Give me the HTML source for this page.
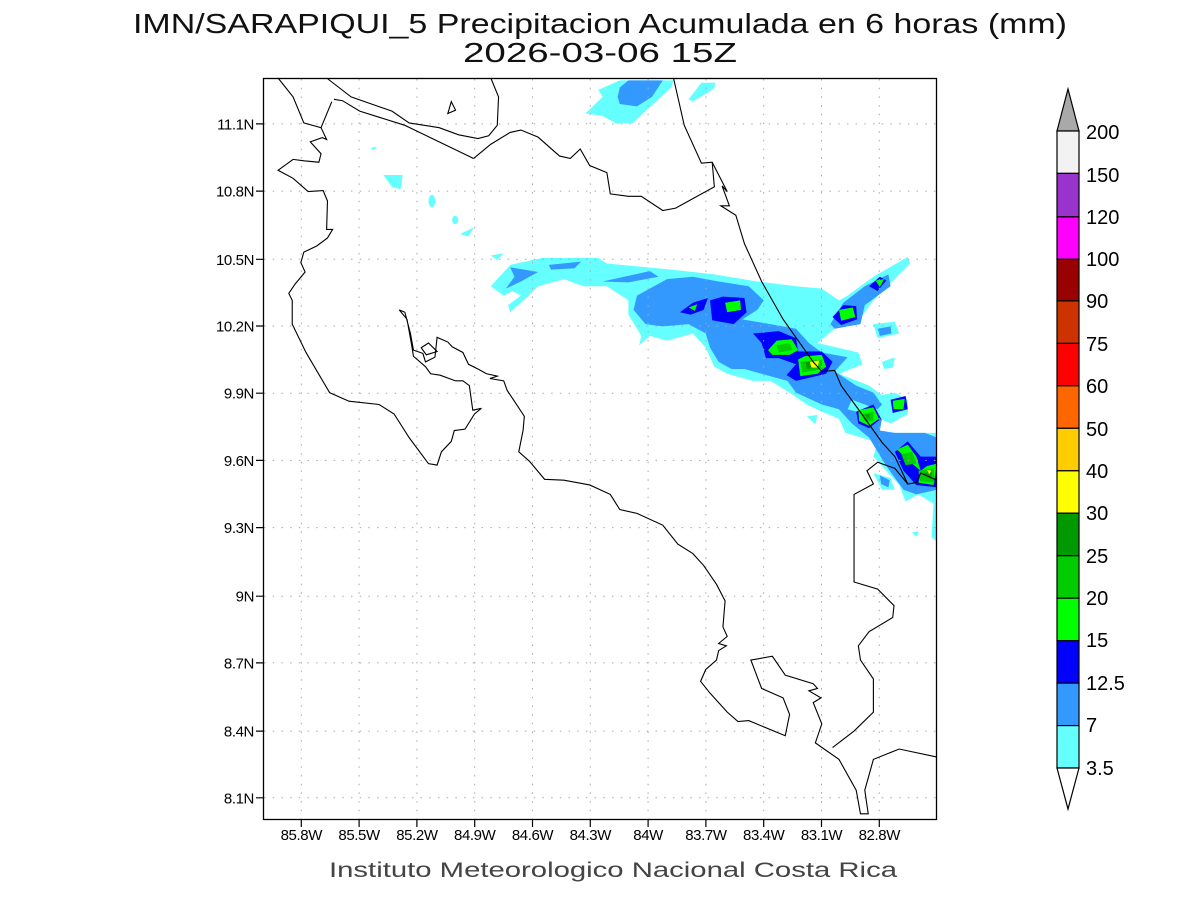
<!DOCTYPE html>
<html><head><meta charset="utf-8"><style>
html,body{margin:0;padding:0;background:#fff;}
svg{display:block;}
text{font-family:"Liberation Sans","DejaVu Sans",sans-serif;}
</style></head><body>
<svg width="1200" height="900" viewBox="0 0 1200 900" xmlns="http://www.w3.org/2000/svg">
<rect width="1200" height="900" fill="#fff"/>
<text x="133" y="33" font-size="28" textLength="934" lengthAdjust="spacingAndGlyphs" fill="#111">IMN/SARAPIQUI_5 Precipitacion Acumulada en 6 horas (mm)</text>
<text x="463" y="62" font-size="28" textLength="274" lengthAdjust="spacingAndGlyphs" fill="#111">2026-03-06 15Z</text>

<g transform="translate(263,78) scale(0.42985,0.47321)">
 <g fill="#66ffff" stroke="none">
  <path d="M530,440 L575,395 L650,380 L780,380 L800,392 L950,405 L1050,415 L1150,430 L1240,440 L1300,445 L1340,470 L1360,460 L1420,420 L1500,378 L1505,392 L1420,470 L1380,520 L1330,530 L1290,560 L1385,580 L1395,605 L1340,625 L1410,650 L1440,670 L1470,665 L1500,680 L1500,710 L1460,730 L1435,720 L1410,745 L1470,750 L1568,750 L1568,980 L1555,970 L1560,900 L1525,880 L1495,895 L1480,860 L1460,840 L1420,800 L1430,770 L1355,750 L1340,720 L1300,705 L1265,690 L1225,665 L1180,640 L1140,640 L1080,625 L1050,610 L1030,570 L1000,540 L940,555 L900,545 L875,565 L880,545 L850,500 L850,470 L800,440 L745,440 L700,425 L640,440 L600,475 L575,495 L570,480 L600,460 L580,450 L560,460 Z"/>
  <path d="M750,75 L790,40 L780,25 L830,5 L955,5 L950,20 L890,70 L860,95 L820,95 L790,80 Z"/>
  <path d="M990,45 L1020,10 L1052,10 L1050,22 L1000,50 Z"/>
  <path d="M280,205 L325,205 L320,235 L300,230 Z"/>
  <ellipse cx="393" cy="260" rx="8" ry="13"/>
  <ellipse cx="447" cy="300" rx="7" ry="9"/>
  <path d="M458,330 L490,316 L478,335 Z"/>
  <path d="M250,148 L265,145 L258,153 Z"/>
  <path d="M530,375 L560,370 L545,385 Z"/>
  <path d="M1420,520 L1470,515 L1480,540 L1430,550 Z"/>
  <path d="M1440,600 L1470,590 L1465,612 L1445,615 Z"/>
  <path d="M1265,715 L1290,712 L1285,732 Z"/>
  <path d="M1420,835 L1460,845 L1470,870 L1440,870 Z"/>
  <path d="M1510,960 L1525,958 L1520,970 Z"/>
 </g>
 <g fill="#3399ff">
  <path d="M575,400 L640,410 L600,430 L565,445 L585,420 Z"/>
  <path d="M665,395 L740,388 L725,402 L670,405 Z"/>
  <path d="M790,430 L900,408 L920,420 L850,432 Z"/>
  <path d="M870,460 L940,425 L1000,420 L1060,430 L1130,440 L1165,470 L1150,490 L1115,510 L1180,520 L1240,530 L1270,560 L1300,580 L1360,590 L1330,620 L1380,650 L1420,665 L1440,690 L1430,700 L1400,690 L1370,680 L1360,700 L1440,720 L1435,745 L1470,750 L1540,750 L1568,760 L1568,870 L1520,880 L1490,870 L1450,820 L1430,790 L1410,760 L1370,730 L1340,700 L1300,690 L1240,665 L1220,640 L1160,625 L1120,615 L1090,615 L1060,600 L1040,570 L1030,540 L990,520 L930,525 L890,520 L862,490 Z"/>
  <path d="M1075,570 L1110,560 L1130,575 L1085,585 Z"/>
  <path d="M1320,520 L1350,475 L1400,440 L1455,415 L1460,440 L1400,480 L1390,520 L1330,530 Z"/>
  <path d="M830,20 L850,5 L930,5 L905,40 L870,60 L830,55 L825,40 Z"/>
  <path d="M1430,530 L1460,525 L1462,540 L1435,545 Z"/>
  <path d="M1435,840 L1458,850 L1455,865 L1438,858 Z"/>
 </g>
 <g fill="#0000ff">
  <path d="M970,495 L1000,475 L1035,465 L1025,490 L995,500 Z"/>
  <path d="M1040,470 L1070,462 L1120,465 L1125,495 L1095,520 L1045,512 Z"/>
  <path d="M1140,540 L1200,535 L1240,550 L1245,578 L1300,578 L1325,600 L1310,625 L1240,640 L1218,628 L1240,605 L1200,592 L1170,592 L1160,560 Z"/>
  <path d="M1325,505 L1350,480 L1380,482 L1382,510 L1345,522 Z"/>
  <path d="M1410,440 L1435,420 L1450,428 L1430,450 Z"/>
  <path d="M1380,705 L1420,690 L1438,720 L1410,740 L1385,730 Z"/>
  <path d="M1460,680 L1495,672 L1500,700 L1465,708 Z"/>
  <path d="M1470,790 L1500,768 L1530,800 L1568,800 L1568,865 L1520,860 L1490,830 Z"/>
 </g>
 <g fill="#00ff00">
  <path d="M1075,475 L1110,470 L1112,490 L1080,495 Z"/>
  <path d="M990,485 L1010,478 L1005,492 Z"/>
  <path d="M1175,575 L1195,555 L1230,552 L1245,575 L1225,585 L1185,585 Z"/>
  <path d="M1245,595 L1260,588 L1300,585 L1310,610 L1290,625 L1250,630 Z"/>
  <path d="M1340,490 L1372,485 L1378,505 L1345,513 Z"/>
  <path d="M1425,428 L1445,425 L1435,442 Z"/>
  <path d="M1465,682 L1493,678 L1490,700 L1467,700 Z"/>
  <path d="M1385,702 L1420,696 L1433,720 L1410,735 L1387,725 Z"/>
  <path d="M1475,785 L1500,775 L1520,800 L1530,830 L1525,855 L1560,860 L1568,815 L1545,820 L1530,830 L1510,815 Z"/>
 </g>
 <g fill="#00cc00">
  <path d="M1195,565 L1225,560 L1232,575 L1200,580 Z"/>
  <path d="M1250,600 L1300,595 L1302,615 L1255,622 Z"/>
  <path d="M1395,710 L1420,705 L1420,725 L1398,724 Z"/>
  <path d="M1485,795 L1510,790 L1520,815 L1495,818 Z"/>
  <path d="M1525,830 L1560,825 L1562,855 L1528,852 Z"/>
 </g>
 <g fill="#009900">
  <path d="M1262,600 L1290,598 L1292,612 L1266,615 Z"/>
  <path d="M1400,712 L1412,710 L1410,722 Z"/>
  <path d="M1535,835 L1555,832 L1555,848 Z"/>
 </g>
 <g fill="#ffff00">
  <path d="M1272,600 L1294,597 L1290,612 L1276,612 Z"/>
  <path d="M1545,828 L1555,830 L1550,838 Z"/>
 </g>
</g>
<!-- grid -->
<g stroke="#a8a8a8" stroke-width="1" stroke-dasharray="1.5,7.2" fill="none">
 <path d="M301.3,79V820M359.1,79V820M416.9,79V820M474.7,79V820M532.5,79V820M590.3,79V820M648.1,79V820M705.9,79V820M763.7,79V820M821.5,79V820M879.3,79V820"/>
 <path d="M264,123.9H937M264,191.1H937M264,259.3H937M264,326H937M264,393.2H937M264,460.4H937M264,527.6H937M264,596.2H937M264,662.9H937M264,731.1H937M264,797.8H937"/>
</g>
<g transform="translate(263,78) scale(0.42985,0.47321)">
 <g fill="none" stroke="#000" stroke-width="1.1">
  <path vector-effect="non-scaling-stroke" d="M35,0 L70,40 L95,95 L135,105 L148,130 L138,126 L110,135 L135,160 L130,178 L95,175 L70,172 L35,195 L70,212 L105,240 L140,238 L150,260 L148,320 L162,320 L150,338 L125,355 L95,368 L88,390 L98,410 L75,435 L60,455 L68,470 L68,520 L100,580 L155,665 L200,683 L270,690 L305,710 L340,760 L385,815 L405,818 L415,790 L438,768 L445,745 L470,742 L492,710 L508,698 L488,702 L480,650 L465,640 L448,640 L412,628 L390,625 L378,610 L350,588 L345,560 L335,510 L317,490 L330,495 L343,540 L350,575 L372,582 L378,600 L400,590 L405,548 L430,558 L440,568 L465,580 L478,605 L500,615 L520,625 L545,630 L528,635 L560,640 L568,660 L590,690 L608,715 L605,745 L595,790 L620,810 L655,848 L700,850 L760,860 L808,880 L830,912 L870,920 L930,945 L965,985 L1000,1005 L1025,1030 L1055,1070 L1075,1105 L1070,1160 L1080,1180 L1060,1195 L1078,1200 L1060,1210 L1055,1230 L1030,1250 L1018,1275 L1040,1300 L1080,1340 L1105,1360 L1130,1358 L1215,1390 L1225,1345 L1210,1310 L1160,1290 L1135,1230 L1185,1222 L1215,1262 L1280,1280 L1290,1290 L1270,1295 L1298,1310 L1280,1320 L1300,1365 L1285,1405 L1340,1440 L1380,1505 L1390,1555 L1408,1555 L1400,1505 L1420,1440 L1480,1418 L1568,1435"/>
  <path vector-effect="non-scaling-stroke" d="M368,570 L385,560 L405,578 L380,585 Z"/>
  <path vector-effect="non-scaling-stroke" d="M1325,1415 L1375,1380 L1420,1340 L1420,1270 L1390,1230 L1385,1200 L1410,1170 L1465,1140 L1468,1115 L1430,1080 L1375,1065 L1375,880 L1420,858 L1405,830 L1430,812 L1470,825 L1500,858 L1520,855 L1530,835 L1568,850"/>
  <path vector-effect="non-scaling-stroke" d="M955,0 L980,100 L1020,180 L1045,178 L1080,240 L1068,228 L1085,270 L1065,270 L1100,290 L1120,350 L1160,430 L1210,510 L1280,600 L1300,620 L1330,618 L1345,650 L1385,700 L1440,770 L1470,800 L1500,858"/>
  <path vector-effect="non-scaling-stroke" d="M490,170 L530,140 L575,115 L600,110 L640,125 L690,165 L715,170 L738,150 L760,185 L800,200 L808,245 L850,250 L880,250 L930,280 L960,275 L1000,255 L1050,230 L1045,178"/>
  <path vector-effect="non-scaling-stroke" d="M148,0 L205,40 L300,70 L340,95 L410,105 L455,120 L500,128 L525,122 L545,100 L548,40 L530,0"/>
  <path vector-effect="non-scaling-stroke" d="M165,45 L185,48 L225,70 L330,100 L490,170"/>
  <path vector-effect="non-scaling-stroke" d="M160,50 L135,105"/>
  <path vector-effect="non-scaling-stroke" d="M430,75 L448,68 L438,50 Z"/>
 </g>
</g>
<rect x="263.5" y="78.5" width="673" height="741" fill="none" stroke="#000" stroke-width="1.3"/>
<g stroke="#000" stroke-width="1.2">
 <path d="M301.3,820v7M359.1,820v7M416.9,820v7M474.7,820v7M532.5,820v7M590.3,820v7M648.1,820v7M705.9,820v7M763.7,820v7M821.5,820v7M879.3,820v7"/>
 <path d="M256,123.9h7M256,191.1h7M256,259.3h7M256,326h7M256,393.2h7M256,460.4h7M256,527.6h7M256,596.2h7M256,662.9h7M256,731.1h7M256,797.8h7"/>
</g>
<g font-size="15" fill="#000" text-anchor="middle" letter-spacing="-0.4">
 <text x="301.3" y="840">85.8W</text><text x="359.1" y="840">85.5W</text><text x="416.9" y="840">85.2W</text><text x="474.7" y="840">84.9W</text><text x="532.5" y="840">84.6W</text><text x="590.3" y="840">84.3W</text><text x="648.1" y="840">84W</text><text x="705.9" y="840">83.7W</text><text x="763.7" y="840">83.4W</text><text x="821.5" y="840">83.1W</text><text x="879.3" y="840">82.8W</text>
</g>
<g font-size="15" fill="#000" text-anchor="end" letter-spacing="-0.4">
 <text x="254" y="129.4">11.1N</text><text x="254" y="196.6">10.8N</text><text x="254" y="264.8">10.5N</text><text x="254" y="331.5">10.2N</text><text x="254" y="398.7">9.9N</text><text x="254" y="465.9">9.6N</text><text x="254" y="533.1">9.3N</text><text x="254" y="601.7">9N</text><text x="254" y="668.4">8.7N</text><text x="254" y="736.6">8.4N</text><text x="254" y="803.3">8.1N</text>
</g>
<text x="329" y="877" font-size="21" fill="#444" textLength="568" lengthAdjust="spacingAndGlyphs">Instituto Meteorologico Nacional Costa Rica</text>
<g stroke="#000" stroke-width="1.2">
 <path d="M1068,89 L1079,131 L1057,131 Z" fill="#a9a9a9"/>
 <rect x="1057" y="131" width="22" height="42.4" fill="#f2f2f2"/>
 <rect x="1057" y="173.4" width="22" height="43.5" fill="#9933cc"/>
 <rect x="1057" y="216.9" width="22" height="42.4" fill="#ff00ff"/>
 <rect x="1057" y="259.3" width="22" height="41.6" fill="#990000"/>
 <rect x="1057" y="300.9" width="22" height="42.5" fill="#cc3300"/>
 <rect x="1057" y="343.4" width="22" height="42.4" fill="#ff0000"/>
 <rect x="1057" y="385.8" width="22" height="42.5" fill="#ff6600"/>
 <rect x="1057" y="428.3" width="22" height="42.5" fill="#ffcc00"/>
 <rect x="1057" y="470.8" width="22" height="42.4" fill="#ffff00"/>
 <rect x="1057" y="513.2" width="22" height="42.5" fill="#009900"/>
 <rect x="1057" y="555.7" width="22" height="42.5" fill="#00cc00"/>
 <rect x="1057" y="598.2" width="22" height="42.5" fill="#00ff00"/>
 <rect x="1057" y="640.7" width="22" height="42.4" fill="#0000ff"/>
 <rect x="1057" y="683.1" width="22" height="42.5" fill="#3399ff"/>
 <rect x="1057" y="725.6" width="22" height="42.4" fill="#66ffff"/>
 <path d="M1057,768 L1079,768 L1068,809 Z" fill="#fff"/>
</g>
<g font-size="20" fill="#000">
 <text x="1086" y="139">200</text><text x="1086" y="182">150</text><text x="1086" y="224">120</text><text x="1086" y="266">100</text><text x="1086" y="308">90</text><text x="1086" y="351">75</text><text x="1086" y="393">60</text><text x="1086" y="436">50</text><text x="1086" y="478">40</text><text x="1086" y="520">30</text><text x="1086" y="563">25</text><text x="1086" y="605">20</text><text x="1086" y="647">15</text><text x="1086" y="690">12.5</text><text x="1086" y="732">7</text><text x="1086" y="775">3.5</text>
</g>
</svg>
</body></html>
